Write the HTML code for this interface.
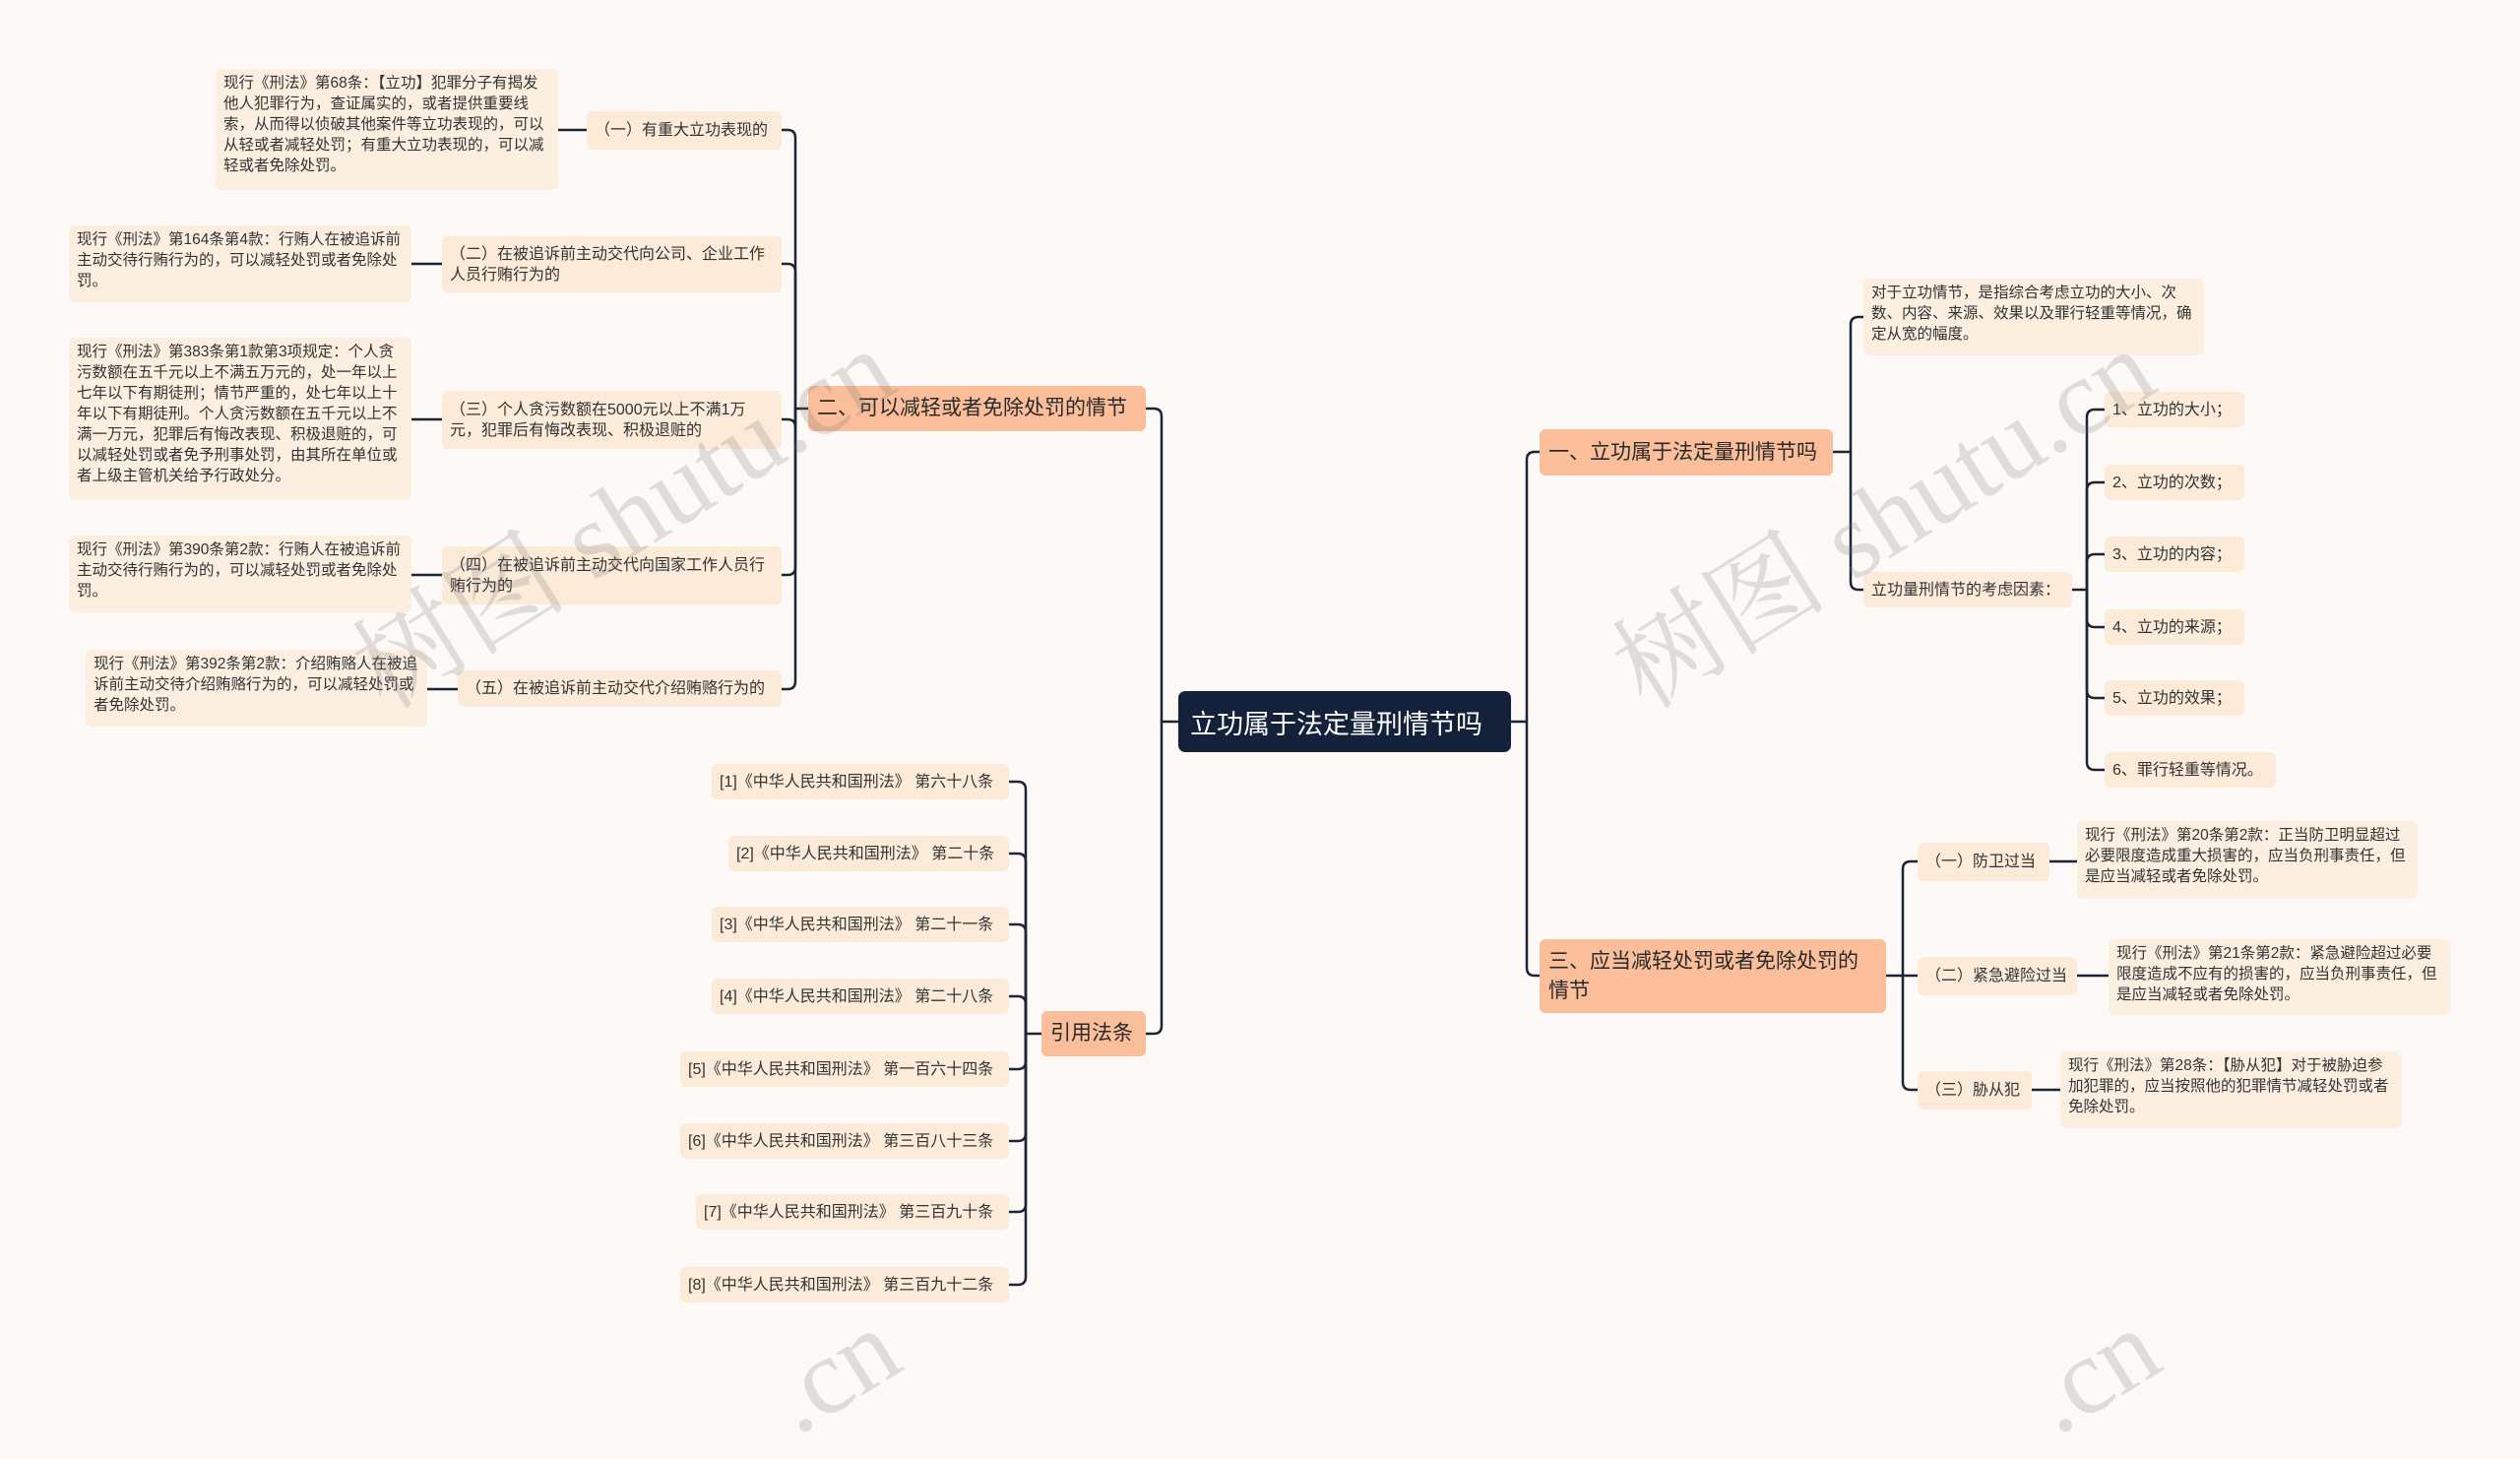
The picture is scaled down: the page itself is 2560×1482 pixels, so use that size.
<!DOCTYPE html>
<html><head><meta charset="utf-8"><style>
body{margin:0;width:2560px;height:1395px;background:#fdf9f7;position:relative;overflow:hidden;font-family:"Liberation Sans","Noto Sans CJK SC",sans-serif;}
.b{position:absolute;box-sizing:border-box;border-radius:6px;display:flex;align-items:center;}
.r{background:#13223a;color:#fff;font-size:27px;padding:0 12px;border-radius:7px;white-space:nowrap;}
.l1{background:#fbbe9b;color:#2a2a2a;font-size:21px;padding:0 9px;line-height:30px;}
.nw{white-space:nowrap;}
.l2{background:#fcebd9;color:#333;font-size:16px;padding:0 8px;line-height:21px;}
.lf{background:#fcefe0;color:#333;font-size:15.5px;padding:4px 8px;line-height:21px;align-items:flex-start;}
.wm{position:absolute;font-family:"Liberation Serif","Noto Serif CJK SC",serif;font-size:110px;color:rgba(120,120,120,0.22);transform:rotate(-32deg);white-space:nowrap;transform-origin:center;}
svg{position:absolute;left:0;top:0}
</style></head><body>
<svg width="2560" height="1395" fill="none" stroke="#1d2535" stroke-width="2.5">
<path d="M1197 733 H1180 V423 Q1180 415 1172 415 H1164"/>
<path d="M1180 733 V1042 Q1180 1050 1172 1050 H1164"/>
<path d="M821 415 H808 V140 Q808 132 800 132 H794"/>
<path d="M808 415 V276 Q808 268 800 268 H794"/>
<path d="M808 415 V434 Q808 426 800 426 H794"/>
<path d="M808 415 V576 Q808 584 800 584 H794"/>
<path d="M808 415 V692 Q808 700 800 700 H794"/>
<path d="M567 132 H596 M418 268 H449 M418 426 H449 M418 584 H449 M434 700 H465"/>
<path d="M1058 1050 H1042 V802 Q1042 794 1034 794 H1025"/>
<path d="M1042 1050 V875 Q1042 867 1034 867 H1025"/>
<path d="M1042 1050 V947 Q1042 939 1034 939 H1025"/>
<path d="M1042 1050 V1020 Q1042 1012 1034 1012 H1025"/>
<path d="M1042 1050 V1078 Q1042 1086 1034 1086 H1025"/>
<path d="M1042 1050 V1151 Q1042 1159 1034 1159 H1025"/>
<path d="M1042 1050 V1223 Q1042 1231 1034 1231 H1025"/>
<path d="M1042 1050 V1297 Q1042 1305 1034 1305 H1025"/>
<path d="M1535 733 H1551 V467 Q1551 459 1559 459 H1564"/>
<path d="M1551 733 V983 Q1551 991 1559 991 H1564"/>
<path d="M1862 459 H1880 V330 Q1880 322 1888 322 H1893"/>
<path d="M1880 459 V591 Q1880 599 1888 599 H1893"/>
<path d="M2105 599 H2120 V424 Q2120 416 2128 416 H2138"/>
<path d="M2120 599 V498 Q2120 490 2128 490 H2138"/>
<path d="M2120 599 V571 Q2120 563 2128 563 H2138"/>
<path d="M2120 599 V629 Q2120 637 2128 637 H2138"/>
<path d="M2120 599 V701 Q2120 709 2128 709 H2138"/>
<path d="M2120 599 V774 Q2120 782 2128 782 H2138"/>
<path d="M1916 991 H1933 V883 Q1933 875 1941 875 H1948"/>
<path d="M1933 991 H1948"/>
<path d="M1933 991 V1099 Q1933 1107 1941 1107 H1948"/>
<path d="M2082 875 H2110 M2110 991 H2142 M2064 1107 H2093"/>
</svg>

<div class="b r" style="left:1197px;top:702px;width:338px;height:62px;">立功属于法定量刑情节吗</div>

<div class="b l1 nw" style="left:821px;top:392px;width:343px;height:46px;">二、可以减轻或者免除处罚的情节</div>
<div class="b l1 nw" style="left:1058px;top:1027px;width:106px;height:46px;">引用法条</div>
<div class="b l1 nw" style="left:1564px;top:436px;width:298px;height:47px;">一、立功属于法定量刑情节吗</div>
<div class="b l1" style="left:1564px;top:954px;width:352px;height:75px;">三、应当减轻处罚或者免除处罚的情节</div>

<div class="b l2 nw" style="left:596px;top:113px;width:198px;height:39px;">（一）有重大立功表现的</div>
<div class="b l2" style="left:449px;top:240px;width:345px;height:57px;">（二）在被追诉前主动交代向公司、企业工作人员行贿行为的</div>
<div class="b l2" style="left:449px;top:397px;width:345px;height:59px;">（三）个人贪污数额在5000元以上不满1万元，犯罪后有悔改表现、积极退赃的</div>
<div class="b l2" style="left:449px;top:555px;width:345px;height:59px;">（四）在被追诉前主动交代向国家工作人员行贿行为的</div>
<div class="b l2 nw" style="left:465px;top:681px;width:329px;height:37px;">（五）在被追诉前主动交代介绍贿赂行为的</div>

<div class="b lf" style="left:219px;top:70px;width:348px;height:123px;">现行《刑法》第68条：【立功】犯罪分子有揭发他人犯罪行为，查证属实的，或者提供重要线索，从而得以侦破其他案件等立功表现的，可以从轻或者减轻处罚；有重大立功表现的，可以减轻或者免除处罚。</div>
<div class="b lf" style="left:70px;top:229px;width:348px;height:78px;">现行《刑法》第164条第4款：行贿人在被追诉前主动交待行贿行为的，可以减轻处罚或者免除处罚。</div>
<div class="b lf" style="left:70px;top:343px;width:348px;height:165px;">现行《刑法》第383条第1款第3项规定：个人贪污数额在五千元以上不满五万元的，处一年以上七年以下有期徒刑；情节严重的，处七年以上十年以下有期徒刑。个人贪污数额在五千元以上不满一万元，犯罪后有悔改表现、积极退赃的，可以减轻处罚或者免予刑事处罚，由其所在单位或者上级主管机关给予行政处分。</div>
<div class="b lf" style="left:70px;top:544px;width:348px;height:78px;">现行《刑法》第390条第2款：行贿人在被追诉前主动交待行贿行为的，可以减轻处罚或者免除处罚。</div>
<div class="b lf" style="left:87px;top:660px;width:347px;height:78px;">现行《刑法》第392条第2款：介绍贿赂人在被追诉前主动交待介绍贿赂行为的，可以减轻处罚或者免除处罚。</div>

<div class="b l2 nw" style="left:723px;top:776px;width:302px;height:36px;">[1]《中华人民共和国刑法》 第六十八条</div>
<div class="b l2 nw" style="left:740px;top:849px;width:285px;height:36px;">[2]《中华人民共和国刑法》 第二十条</div>
<div class="b l2 nw" style="left:723px;top:921px;width:302px;height:36px;">[3]《中华人民共和国刑法》 第二十一条</div>
<div class="b l2 nw" style="left:723px;top:994px;width:302px;height:36px;">[4]《中华人民共和国刑法》 第二十八条</div>
<div class="b l2 nw" style="left:691px;top:1068px;width:334px;height:36px;">[5]《中华人民共和国刑法》 第一百六十四条</div>
<div class="b l2 nw" style="left:691px;top:1141px;width:334px;height:36px;">[6]《中华人民共和国刑法》 第三百八十三条</div>
<div class="b l2 nw" style="left:707px;top:1213px;width:318px;height:36px;">[7]《中华人民共和国刑法》 第三百九十条</div>
<div class="b l2 nw" style="left:691px;top:1287px;width:334px;height:36px;">[8]《中华人民共和国刑法》 第三百九十二条</div>

<div class="b lf" style="left:1893px;top:283px;width:346px;height:78px;">对于立功情节，是指综合考虑立功的大小、次数、内容、来源、效果以及罪行轻重等情况，确定从宽的幅度。</div>
<div class="b l2 nw" style="left:1893px;top:581px;width:212px;height:36px;">立功量刑情节的考虑因素：</div>
<div class="b l2 nw" style="left:2138px;top:398px;width:142px;height:36px;">1、立功的大小；</div>
<div class="b l2 nw" style="left:2138px;top:472px;width:142px;height:36px;">2、立功的次数；</div>
<div class="b l2 nw" style="left:2138px;top:545px;width:142px;height:36px;">3、立功的内容；</div>
<div class="b l2 nw" style="left:2138px;top:619px;width:142px;height:36px;">4、立功的来源；</div>
<div class="b l2 nw" style="left:2138px;top:691px;width:142px;height:36px;">5、立功的效果；</div>
<div class="b l2 nw" style="left:2138px;top:764px;width:174px;height:36px;">6、罪行轻重等情况。</div>

<div class="b l2 nw" style="left:1948px;top:856px;width:134px;height:39px;">（一）防卫过当</div>
<div class="b l2 nw" style="left:1948px;top:972px;width:162px;height:39px;">（二）紧急避险过当</div>
<div class="b l2 nw" style="left:1948px;top:1088px;width:116px;height:39px;">（三）胁从犯</div>
<div class="b lf" style="left:2110px;top:834px;width:346px;height:79px;">现行《刑法》第20条第2款：正当防卫明显超过必要限度造成重大损害的，应当负刑事责任，但是应当减轻或者免除处罚。</div>
<div class="b lf" style="left:2142px;top:954px;width:347px;height:77px;">现行《刑法》第21条第2款：紧急避险超过必要限度造成不应有的损害的，应当负刑事责任，但是应当减轻或者免除处罚。</div>
<div class="b lf" style="left:2093px;top:1068px;width:347px;height:78px;">现行《刑法》第28条：【胁从犯】对于被胁迫参加犯罪的，应当按照他的犯罪情节减轻处罚或者免除处罚。</div>

<div class="wm" style="left:320px;top:440px;">树图 shutu.cn</div>
<div class="wm" style="left:1600px;top:440px;">树图 shutu.cn</div>
<div class="wm" style="left:780px;top:1330px;">.cn</div>
<div class="wm" style="left:2060px;top:1330px;">.cn</div>
</body></html>
